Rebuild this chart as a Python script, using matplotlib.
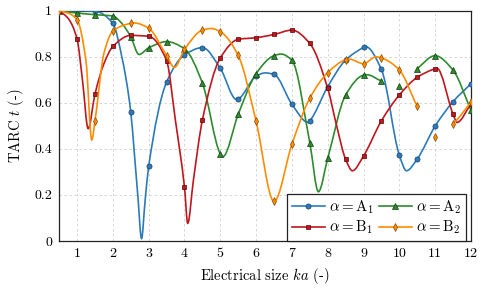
import numpy as np
import matplotlib
matplotlib.use("Agg")
import matplotlib.pyplot as plt
from matplotlib.path import Path
from matplotlib.patches import PathPatch
from matplotlib.lines import Line2D

plt.rcParams['font.family'] = ['cmr10', 'DejaVu Serif']
plt.rcParams['mathtext.fontset'] = 'cm'
plt.rcParams['axes.formatter.use_mathtext'] = True

# marker positions (ka) and marker values
ka_marks = [0.5, 1.0, 1.5, 2.0, 2.5, 3.0, 3.5, 4.0, 4.5, 5.0, 5.5, 6.0,
            6.5, 7.0, 7.5, 8.0, 8.5, 9.0, 9.5, 10.0, 10.5, 11.0, 11.5, 12.0]

a1_marks = [1.0, 1.0, 0.998, 0.945, 0.56, 0.324, 0.69, 0.808, 0.84, 0.75, 0.617, 0.716,
            0.724, 0.594, 0.522, 0.67, 0.786, 0.841, 0.745, 0.373, 0.356, 0.499, 0.605, 0.683]
a2_marks = [1.0, 0.99, 0.983, 0.977, 0.887, 0.839, 0.866, 0.835, 0.686, 0.379, 0.55, 0.727,
            0.805, 0.785, 0.426, 0.359, 0.634, 0.72, 0.695, 0.672, 0.748, 0.805, 0.742, 0.569]
b1_marks = [1.0, 0.877, 0.638, 0.845, 0.893, 0.889, 0.783, 0.233, 0.525, 0.795, 0.876, 0.883,
            0.897, 0.916, 0.858, 0.663, 0.355, 0.369, 0.522, 0.634, 0.711, 0.748, 0.551, 0.595]
b2_marks = [1.0, 0.961, 0.521, 0.912, 0.945, 0.924, 0.805, 0.832, 0.916, 0.909, 0.806, 0.52,
            0.172, 0.42, 0.62, 0.731, 0.787, 0.77, 0.795, 0.743, 0.585, 0.453, 0.509, 0.602]

# extra curve points read between the markers (dips, peaks)
a1_extra_x = [2.25, 2.6, 2.7, 2.8, 2.9, 5.45, 6.25, 7.45, 9.05, 10.2]
a1_extra_y = [0.80, 0.38, 0.19, 0.01, 0.175, 0.615, 0.73, 0.515, 0.845, 0.305]
a2_extra_x = [2.25, 2.73, 5.07, 6.7, 7.74, 9.1, 10.0]
a2_extra_y = [0.945, 0.81, 0.366, 0.812, 0.214, 0.722, 0.672]
b1_extra_x = [0.75, 1.15, 1.31, 1.75, 3.75, 4.09, 4.25, 8.25, 8.69, 11.05, 11.61]
b1_extra_y = [0.967, 0.70, 0.488, 0.77, 0.52, 0.077, 0.265, 0.50, 0.305, 0.75, 0.515]
b2_extra_x = [0.75, 1.25, 1.41, 1.75, 2.6, 3.72, 4.75, 8.6, 9.35, 11.0]
b2_extra_y = [0.99, 0.78, 0.439, 0.815, 0.947, 0.754, 0.923, 0.79, 0.80, 0.453]

labels = [r'$\alpha = \mathrm{A}_1$', r'$\alpha = \mathrm{A}_2$',
          r'$\alpha = \mathrm{B}_1$', r'$\alpha = \mathrm{B}_2$']
colors = ['#2b7bba', '#2e8b2e', '#c0171e', '#ff8c00']
edges = ['#1b3f66', '#0f3d0f', '#5a0000', '#8a4a00']
markers = ['o', '^', 's', 'd']
msizes = [3.7, 4.0, 3.3, 3.9]


def pchip_slopes(x, y):
    h = np.diff(x)
    d = np.diff(y) / h
    m = np.zeros_like(y)
    m[0] = d[0]
    m[-1] = d[-1]
    for k in range(1, len(x) - 1):
        if d[k - 1] * d[k] <= 0:
            m[k] = 0.0
        else:
            w1 = 2 * h[k] + h[k - 1]
            w2 = h[k] + 2 * h[k - 1]
            m[k] = (w1 + w2) / (w1 / d[k - 1] + w2 / d[k])
    return m


def smooth_path(x, y):
    # cubic bezier segments through the read points
    m = pchip_slopes(x, y)
    verts = [(x[0], y[0])]
    codes = [Path.MOVETO]
    for i in range(len(x) - 1):
        h = x[i + 1] - x[i]
        verts += [(x[i] + h / 3, y[i] + m[i] * h / 3),
                  (x[i + 1] - h / 3, y[i + 1] - m[i + 1] * h / 3),
                  (x[i + 1], y[i + 1])]
        codes += [Path.CURVE4] * 3
    return Path(verts, codes)


series = [(a1_marks, a1_extra_x, a1_extra_y),
          (a2_marks, a2_extra_x, a2_extra_y),
          (b1_marks, b1_extra_x, b1_extra_y),
          (b2_marks, b2_extra_x, b2_extra_y)]

fig = plt.figure(figsize=(4.85, 2.91), dpi=100)
ax = fig.add_axes([0.122, 0.172, 0.849, 0.791])

handles = []
for i, (mk, ex, ey) in enumerate(series):
    x = np.array(list(ka_marks) + ex, dtype=float)
    y = np.array(list(mk) + ey, dtype=float)
    order = np.argsort(x)
    x, y = x[order], y[order]
    ax.add_patch(PathPatch(smooth_path(x, y), fill=False, edgecolor=colors[i],
                           linewidth=1.2, zorder=3 + i))
    ax.plot(ka_marks, mk, linestyle='none', marker=markers[i], markersize=msizes[i],
            markerfacecolor=colors[i], markeredgecolor=edges[i], markeredgewidth=0.5,
            zorder=3 + i)
    handles.append(Line2D([], [], color=colors[i], linewidth=1.2, marker=markers[i],
                          markersize=msizes[i], markerfacecolor=colors[i],
                          markeredgecolor=edges[i], markeredgewidth=0.5))

ax.set_xlim(0.5, 12)
ax.set_ylim(0, 1)
ax.set_xticks(range(1, 13))
ax.set_xticklabels([str(v) for v in range(1, 13)])
ax.set_yticks([0, 0.2, 0.4, 0.6, 0.8, 1.0])
ax.set_yticklabels(['0', '0.2', '0.4', '0.6', '0.8', '1'])
ax.tick_params(length=0, labelsize=10, pad=5)
ax.grid(True, linestyle=(0, (3, 3)), color='#d0d0d0', linewidth=0.6)
ax.set_axisbelow(True)
for s in ax.spines.values():
    s.set_linewidth(0.9)
    s.set_color('#222222')

ax.set_xlabel(r'Electrical size $ka$ (-)', fontsize=10.5, labelpad=4)
ax.set_ylabel(r'TARC $t$ (-)', fontsize=10.5, labelpad=6)

# legend row-wise: A1 A2 / B1 B2
leg = ax.legend([handles[0], handles[2], handles[1], handles[3]],
                [labels[0], labels[2], labels[1], labels[3]],
                ncol=2, loc='lower right', bbox_to_anchor=(0.988, 0.0),
                borderaxespad=0, fontsize=10.8, fancybox=False, framealpha=1,
                edgecolor='#222222', handlelength=2.2, handletextpad=0.3,
                columnspacing=0.3, labelspacing=0.2, borderpad=0.3)
leg.get_frame().set_linewidth(0.9)
leg.set_zorder(10)

fig.savefig('out.png', dpi=100)
